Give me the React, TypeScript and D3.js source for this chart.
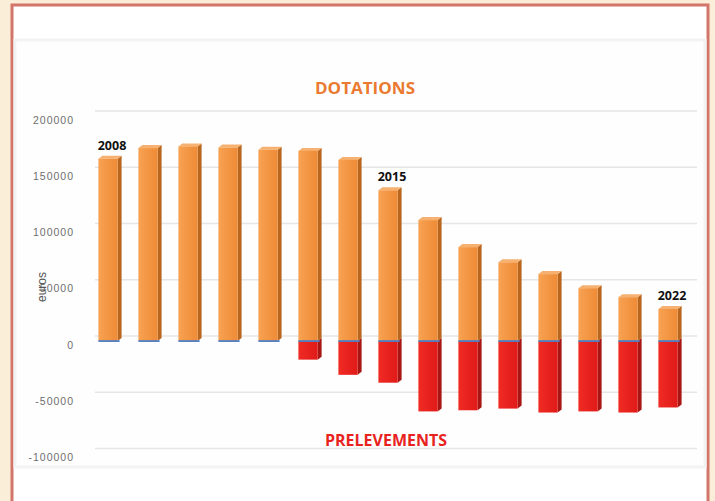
import React from "react";
import * as d3 from "d3";

const years = [2008, 2009, 2010, 2011, 2012, 2013, 2014, 2015, 2016, 2017, 2018, 2019, 2020, 2021, 2022];
const dotations = [162000, 171500, 173000, 172000, 170000, 169000, 161000, 134000, 107500, 83500, 70000, 59500, 47000, 39000, 28500];
const prelevements = [0, 0, 0, 0, 0, -16500, -30000, -37000, -62500, -61500, -60000, -63500, -62500, -63500, -59000];
const yTicks = [200000, 150000, 100000, 50000, 0, -50000, -100000];
const yearLabels = [2008, 2015, 2022];

const W = 715;
const H = 501;

export default function App() {
  const x = d3
    .scaleBand<number>()
    .domain(years)
    .range([90, 690])
    .paddingInner(0.42)
    .paddingOuter(0.21);
  const y = d3.scaleLinear().domain([-100000, 200000]).range([453.6, 116]);

  const depth = 4; // 3d side width
  const lift = 3; // 3d top offset
  const fw = x.bandwidth() - depth;
  const y0 = y(0);

  // side face polygon for a bar between ya and yb
  const side = (x0: number, ya: number, yb: number) =>
    `${x0 + fw},${ya} ${x0 + fw + depth},${ya - lift} ${x0 + fw + depth},${yb - lift} ${x0 + fw},${yb}`;
  const top = (x0: number, ya: number) =>
    `${x0},${ya} ${x0 + depth},${ya - lift} ${x0 + fw + depth},${ya - lift} ${x0 + fw},${ya}`;

  return (
    <svg width={W} height={H} style={{ position: "absolute", left: 0, top: 0, display: "block" }}>
      <defs>
        <linearGradient id="orangeFront" x1="0" x2="1" y1="0" y2="0">
          <stop offset="0%" stopColor="#f7a253" />
          <stop offset="100%" stopColor="#ef8b36" />
        </linearGradient>
        <linearGradient id="redFront" x1="0" x2="1" y1="0" y2="0">
          <stop offset="0%" stopColor="#f02a24" />
          <stop offset="100%" stopColor="#e01a17" />
        </linearGradient>
      </defs>

      {/* page background and frame */}
      <rect x={0} y={0} width={W} height={H} fill="#fbeed8" />
      <rect x={12} y={5} width={696} height={H + 10} fill="#ffffff" stroke="#d4756a" strokeWidth={3} />

      {/* plot area */}
      <rect x={15} y={40} width={690} height={427} fill="#fefefe" stroke="#f3f3f3" strokeWidth={3} />

      {/* gridlines on the back wall */}
      {yTicks.map((t) => (
        <line key={"g" + t} x1={95} x2={697} y1={y(t) - 5} y2={y(t) - 5} stroke="#e6e6e6" strokeWidth={1.5} />
      ))}

      {/* tick labels */}
      {yTicks.map((t) => (
        <text
          key={"t" + t}
          x={74}
          y={y(t) + 4}
          dy="0.35em"
          textAnchor="end"
          fontFamily="'Liberation Sans', Arial, sans-serif"
          fontSize={10.5}
          letterSpacing={1}
          fill="#6e6e6e"
        >
          {t}
        </text>
      ))}

      <text
        transform={`translate(42,287) rotate(-90)`}
        textAnchor="middle"
        dy="0.35em"
        fontFamily="'Liberation Sans', Arial, sans-serif"
        fontSize={12}
        fill="#555"
      >
        euros
      </text>

      {/* negative bars (prelevements) */}
      {years.map((yr, i) => {
        const v = prelevements[i];
        if (v >= 0) return null;
        const x0 = x(yr)!;
        const yv = y(v);
        return (
          <g key={"p" + yr}>
            <polygon points={side(x0, y0, yv)} fill="#a81512" />
            <rect x={x0} y={y0} width={fw} height={yv - y0} fill="url(#redFront)" />
          </g>
        );
      })}

      {/* positive bars (dotations) */}
      {years.map((yr, i) => {
        const v = dotations[i];
        const x0 = x(yr)!;
        const yv = y(v);
        return (
          <g key={"d" + yr}>
            <polygon points={side(x0, yv, y0)} fill="#b9661f" />
            <polygon points={top(x0, yv)} fill="#f6b06f" />
            <rect x={x0} y={yv} width={fw} height={y0 - yv} fill="url(#orangeFront)" />
            <line x1={x0} x2={x0 + fw + depth / 2} y1={y0} y2={y0} stroke="#4f7fc4" strokeWidth={1.8} />
          </g>
        );
      })}

      {/* year labels */}
      {yearLabels.map((yr) => {
        const i = years.indexOf(yr);
        return (
          <text
            key={"l" + yr}
            x={x(yr)! + x.bandwidth() / 2 + 2}
            y={y(dotations[i]) - 9}
            textAnchor="middle"
            fontFamily="'Open Sans', sans-serif"
            fontWeight="bold"
            fontSize={12.5}
            fill="#111"
          >
            {yr}
          </text>
        );
      })}

      <text
        x={365}
        y={94}
        textAnchor="middle"
        fontFamily="'Open Sans', sans-serif"
        fontWeight="bold"
        fontSize={16}
        textLength={100}
        lengthAdjust="spacingAndGlyphs"
        fill="#ea7a30"
      >
        DOTATIONS
      </text>
      <text
        x={386}
        y={446}
        textAnchor="middle"
        fontFamily="'Open Sans', sans-serif"
        fontWeight="bold"
        fontSize={16}
        textLength={122}
        lengthAdjust="spacingAndGlyphs"
        fill="#e8231e"
      >
        PRELEVEMENTS
      </text>
    </svg>
  );
}
